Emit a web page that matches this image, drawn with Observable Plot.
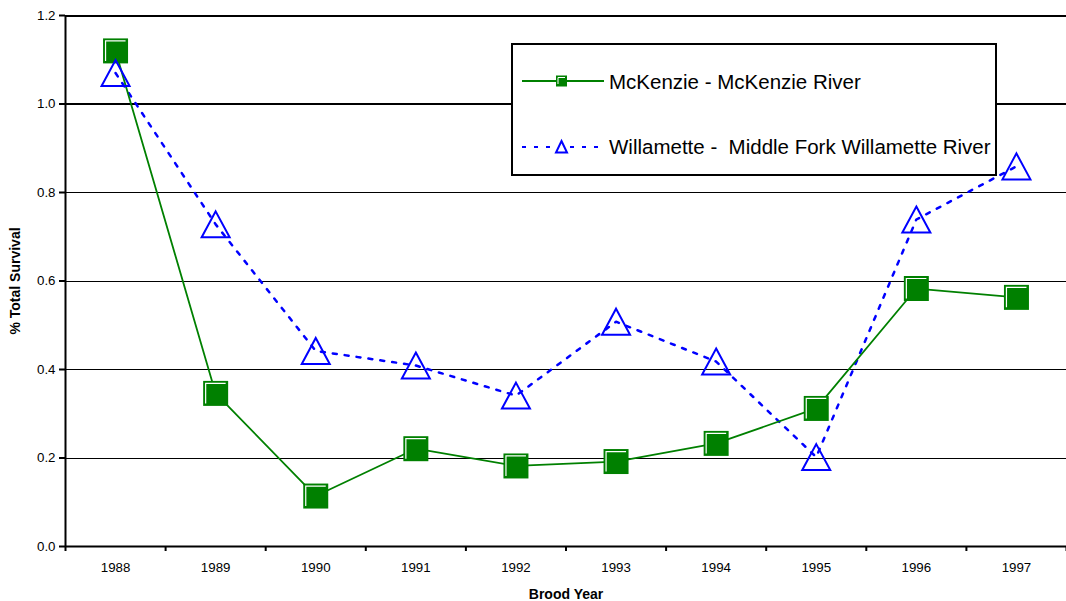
<!DOCTYPE html>
<html>
<head>
<meta charset="utf-8">
<script src="https://cdn.jsdelivr.net/npm/d3@7"></script>
<script src="https://cdn.jsdelivr.net/npm/@observablehq/plot@0.6"></script>
<style>
  html, body { margin: 0; padding: 0; background: #fff; }
  #wrap { position: relative; width: 1066px; height: 601px; font-family: "Liberation Sans", Arial, sans-serif; }
  #legend { position: absolute; left: 511px; top: 43px; width: 482px; height: 129px; border: 2px solid #000; background: #fff; }
  #legend .row { position: absolute; left: 8px; height: 24px; display: flex; align-items: center; font-size: 20.5px; color: #000; white-space: pre; }
  #legend svg { margin-right: 4px; }
  g[aria-label="y-axis tick label"] text, g[aria-label="x-axis tick label"] text { font-size: 13.3px; }
  g[aria-label="y-axis label"] text, g[aria-label="x-axis label"] text { font-weight: bold; font-size: 14px; }
</style>
</head>
<body>
<div id="wrap"></div>
<script>
const years = [1988, 1989, 1990, 1991, 1992, 1993, 1994, 1995, 1996, 1997];
const mckenzie = [1.12, 0.346, 0.114, 0.221, 0.182, 0.192, 0.233, 0.312, 0.583, 0.563];
const willamette = [1.07, 0.728, 0.442, 0.409, 0.341, 0.508, 0.418, 0.202, 0.739, 0.859];
const yTicks = [0, 0.2, 0.4, 0.6, 0.8, 1.0, 1.2];
const seriesNames = ["McKenzie - McKenzie River", "Willamette -  Middle Fork Willamette River"];

const mk = years.map((y, i) => ({year: y, value: mckenzie[i]}));
const wl = years.map((y, i) => ({year: y, value: willamette[i]}));

const squareHighlight = {
  draw(ctx) {
    const w = 12.5, i = 2.5;
    ctx.moveTo(-w + i, w - i);
    ctx.lineTo(-w + i, -w + i);
    ctx.lineTo(w - i, -w + i);
  }
};
const squareSym = {
  draw(ctx) {
    const w = 12.5;
    ctx.moveTo(-w, -w); ctx.lineTo(w, -w); ctx.lineTo(w, w); ctx.lineTo(-w, w); ctx.closePath();
  }
};
const triSym = {
  draw(ctx) {
    ctx.moveTo(0, -13); ctx.lineTo(14, 13); ctx.lineTo(-14, 13); ctx.closePath();
  }
};

const chart = Plot.plot({
  width: 1066,
  height: 601,
  marginLeft: 65,
  marginRight: 0,
  marginTop: 15,
  marginBottom: 55,
  style: {fontFamily: "Liberation Sans, Arial, sans-serif", fontSize: "13px", color: "#000", background: "#fff"},
  x: {domain: [1987.5, 1997.5]},
  y: {domain: [0, 1.2]},
  marks: [
    Plot.gridY(yTicks.filter(t => t < 1), {stroke: "#000", strokeOpacity: 1, strokeWidth: 1, shapeRendering: "crispEdges"}),
    Plot.gridY(yTicks.filter(t => t >= 1), {stroke: "#000", strokeOpacity: 1, strokeWidth: 2, shapeRendering: "crispEdges"}),
    Plot.axisY({ticks: yTicks, tickFormat: d3.format(".1f"), tickSize: 6, tickPadding: 4, strokeWidth: 2, fontSize: 13.3,
      label: "% Total Survival", labelAnchor: "center", labelArrow: "none", labelOffset: 55}),
    Plot.axisX({ticks: d3.range(1987.5, 1998, 1), tickFormat: () => "", tickSize: 5, strokeWidth: 2, label: null}),
    Plot.axisX({ticks: years, tickFormat: d => String(d), tickSize: 0, tickPadding: 16, fontSize: 13.3,
      label: "Brood Year", labelAnchor: "center", labelArrow: "none", labelOffset: 52}),
    Plot.ruleX([1987.5], {stroke: "#000", strokeWidth: 2}),
    Plot.ruleY([0], {stroke: "#000", strokeWidth: 2}),
    Plot.line(wl, {x: "year", y: "value", stroke: "#0000ff", strokeWidth: 2.5, strokeDasharray: "4,8"}),
    Plot.line(mk, {x: "year", y: "value", stroke: "#008000", strokeWidth: 1.8}),
    Plot.dot(mk, {x: "year", y: "value", symbol: squareSym, r: 5, fill: "#008000", stroke: "none"}),
    Plot.dot(mk, {x: "year", y: "value", symbol: squareHighlight, r: 5, fill: "none", stroke: "#fff", strokeWidth: 1.2}),
    Plot.dot(wl, {x: "year", y: "value", symbol: triSym, r: 5, fill: "none", stroke: "#0000ff", strokeWidth: 2})
  ]
});

const wrap = document.getElementById("wrap");
wrap.appendChild(chart);

const legend = document.createElement("div");
legend.id = "legend";
legend.innerHTML = `
  <div class="row" style="top:25px">
    <svg width="84" height="20" viewBox="0 0 84 20">
      <line x1="1" y1="9" x2="83" y2="9" stroke="#008000" stroke-width="2"/>
      <rect x="35" y="3.5" width="11" height="11" fill="#008000"/>
      <path d="M37,12 L37,5.5 L44,5.5" fill="none" stroke="#fff" stroke-width="1"/>
    </svg><span>${seriesNames[0]}</span>
  </div>
  <div class="row" style="top:90px">
    <svg width="84" height="20" viewBox="0 0 84 20">
      <line x1="1" y1="10" x2="83" y2="10" stroke="#0000ff" stroke-width="2" stroke-dasharray="4,8"/>
      <path d="M40.5,4 L46,15.5 L35,15.5 Z" fill="#fff" stroke="#0000ff" stroke-width="2"/>
    </svg><span>${seriesNames[1]}</span>
  </div>`;
wrap.appendChild(legend);
</script>
</body>
</html>
